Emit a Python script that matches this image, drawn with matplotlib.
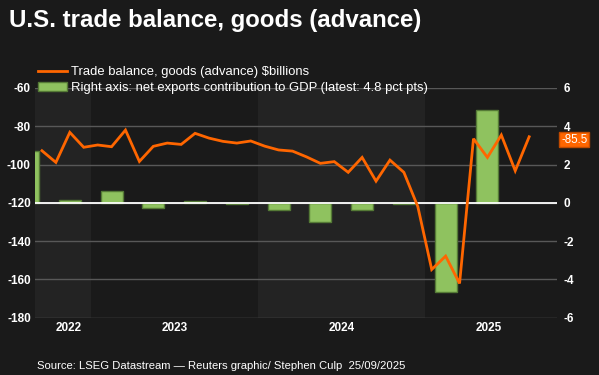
import matplotlib
matplotlib.use("Agg")
import matplotlib.pyplot as plt
import matplotlib.patches as mpatches
from matplotlib.lines import Line2D

# ---- data ----
# monthly goods trade balance ($bn), Sep 2022 .. Aug 2025
months = ["2022-09", "2022-10", "2022-11", "2022-12",
          "2023-01", "2023-02", "2023-03", "2023-04", "2023-05", "2023-06",
          "2023-07", "2023-08", "2023-09", "2023-10", "2023-11", "2023-12",
          "2024-01", "2024-02", "2024-03", "2024-04", "2024-05", "2024-06",
          "2024-07", "2024-08", "2024-09", "2024-10", "2024-11", "2024-12",
          "2025-01", "2025-02", "2025-03", "2025-04", "2025-05", "2025-06",
          "2025-07", "2025-08"]
balance = [-92.8, -98.9, -83.2, -91.0,
           -89.8, -90.7, -82.0, -98.4, -90.5, -88.8,
           -89.5, -83.7, -86.2, -87.9, -88.8, -87.7,
           -90.4, -92.4, -93.0, -96.0, -99.4, -98.5,
           -104.1, -96.3, -108.7, -97.7, -104.1, -122.0,
           -154.9, -147.9, -162.2, -86.5, -96.3, -84.6,
           -103.3, -85.5]
# quarterly net exports contribution to GDP (pct pts), Q3 2022 .. Q2 2025
quarters = ["2022Q3", "2022Q4", "2023Q1", "2023Q2", "2023Q3", "2023Q4",
            "2024Q1", "2024Q2", "2024Q3", "2024Q4", "2025Q1", "2025Q2"]
contrib = [2.7, 0.15, 0.62, -0.3, 0.1, -0.07,
           -0.4, -1.0, -0.37, -0.07, -4.66, 4.85]
years = ["2022", "2023", "2024", "2025"]
left_ticks = [-60, -80, -100, -120, -140, -160, -180]
right_ticks = [6, 4, 2, 0, -2, -4, -6]

title = "U.S. trade balance, goods (advance)"
legend_line = "Trade balance, goods (advance) $billions"
legend_bar = "Right axis: net exports contribution to GDP (latest: 4.8 pct pts)"
source = "Source: LSEG Datastream \u2014 Reuters graphic/ Stephen Culp  25/09/2025"

# ---- helpers: month positions (months since Jan 2022) ----
def mpos(s):
    y, m = s.split("-")
    return (int(y) - 2022) * 12 + int(m) - 1 + 0.5

def qpos(s):
    y, q = s.split("Q")
    return (int(y) - 2022) * 12 + (int(q) - 1) * 3 + 1.5

xm = [mpos(s) for s in months]
xq = [qpos(s) for s in quarters]

BG = "#1a1a1a"
BAND = "#232323"
ORANGE = "#ff6600"
GREEN = "#8fc25f"
GREEN_EDGE = "#557a36"
GRID = "#585858"
FONT = "Liberation Sans"

plt.rcParams["font.family"] = [FONT, "DejaVu Sans"]
plt.rcParams["axes.unicode_minus"] = False

fig = plt.figure(figsize=(5.99, 3.75), dpi=100, facecolor=BG)
W, H = 599, 375
x0, x1, ytop, ybot = 35, 557, 88, 317.5
ax2 = fig.add_axes([x0 / W, 1 - ybot / H, (x1 - x0) / W, (ybot - ytop) / H])
ax2.set_facecolor(BG)
ax = ax2.twinx()
ax.set_zorder(ax2.get_zorder() + 1)
ax.patch.set_visible(False)

xlim = (8.0, 45.5)
ax2.set_xlim(*xlim)

# year bands
for i, yr in enumerate(years):
    start = (int(yr) - 2022) * 12
    if i % 2 == 0:
        ax2.axvspan(max(start, xlim[0]), start + 12, color=BAND, zorder=0, lw=0)

# bars (right axis values)
ax2.set_ylim(-6, 6)
ax2.set_yticks(right_ticks)
ax2.grid(axis="y", color=GRID, lw=1, zorder=1)
ax2.set_axisbelow(True)
ax2.bar(xq, contrib, width=1.58, color=GREEN, edgecolor=GREEN_EDGE, lw=1, zorder=2)
ax2.axhline(0, color="white", lw=1.3, zorder=3)

# line (left axis values)
ax.set_ylim(-180, -60)
ax.set_yticks(left_ticks)
ax.plot(xm, balance, color=ORANGE, lw=2, zorder=5, solid_joinstyle="miter")

# axis sides: left values on left, right values on right
ax.yaxis.tick_left()
ax2.yaxis.tick_right()
for a in (ax, ax2):
    for sp in a.spines.values():
        sp.set_visible(False)
    a.tick_params(length=0, colors="white", labelsize=8.5)
for lab in ax.get_yticklabels() + ax2.get_yticklabels():
    lab.set_fontweight("bold")
ax.tick_params(axis="y", pad=3)
ax2.tick_params(axis="y", pad=5)

ax2.set_xticks([10.45, 18.0, 30.0, 40.6])
ax2.set_xticklabels(years, fontweight="bold", fontsize=8.5, color="white")
ax2.tick_params(axis="x", pad=3)

# last value label
ax.annotate(f"{balance[-1]:.1f}", xy=(1.0, balance[-1]), xycoords=("axes fraction", "data"),
            xytext=(3, -2), textcoords="offset points", ha="left", va="center",
            fontsize=8.3, color="white",
            bbox=dict(boxstyle="square,pad=0.15", fc=ORANGE, ec="#c04a00", lw=1))

# title, legend, source
fig.text(9 / W, 1 - 20 / H, title, color="white", fontsize=17.3, fontweight="bold",
         va="center", ha="left")
handles = [Line2D([0], [0], color=ORANGE, lw=2),
           mpatches.Patch(facecolor=GREEN, edgecolor=GREEN_EDGE)]
leg = fig.legend(handles, [legend_line, legend_bar], loc="upper left",
                 bbox_to_anchor=(38 / W, 1 - 66 / H), frameon=False, fontsize=9.4,
                 labelcolor="white", handlelength=2.2, handleheight=0.7,
                 handletextpad=0.35, labelspacing=0.3, borderpad=0, borderaxespad=0)
fig.text(37 / W, 1 - 366 / H, source, color="white", fontsize=8.1, va="center", ha="left")

fig.savefig("out.png", dpi=100, facecolor=BG)
